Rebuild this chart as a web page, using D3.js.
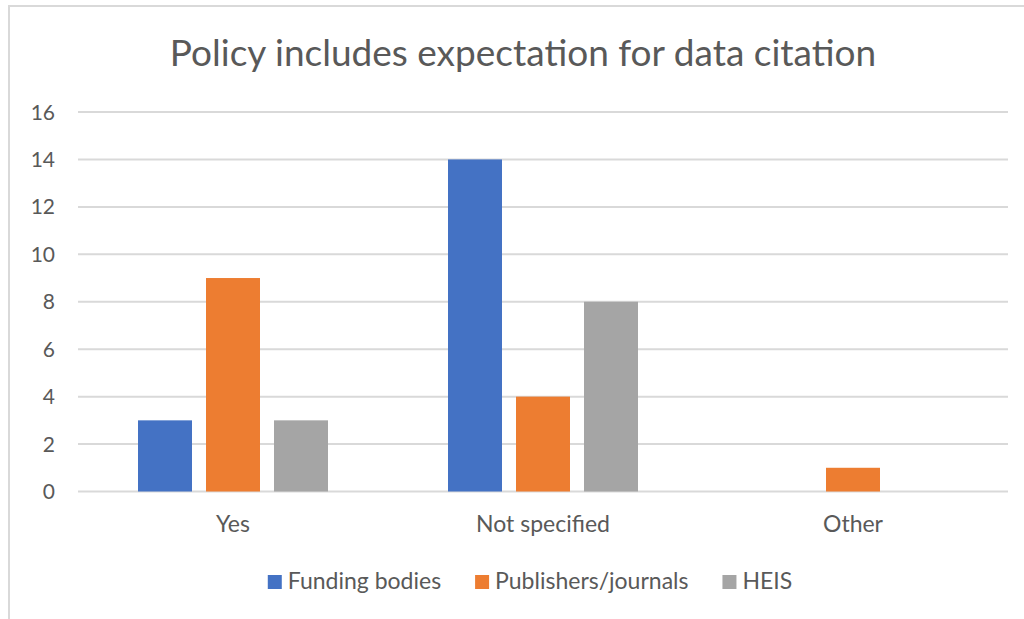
<!DOCTYPE html>
<html>
<head>
<meta charset="utf-8">
<script src="https://cdn.jsdelivr.net/npm/d3@7"></script>
<style>
  body { margin: 0; background: #fff; }
  svg { display: block; }
</style>
</head>
<body>
<svg id="chart"></svg>
<script>
(function () {
    // Data
    const categories = ["Yes", "Not specified", "Other"];
    const seriesNames = ["Funding bodies", "Publishers/journals", "HEIS"];
    const fundingBodies = [3, 14, 0];
    const publishersJournals = [9, 4, 1];
    const heis = [3, 8, 0];
    const yTicks = [0, 2, 4, 6, 8, 10, 12, 14, 16];

    const seriesValues = [fundingBodies, publishersJournals, heis];
    const colors = ["#4472C4", "#ED7D31", "#A5A5A5"];

    const width = 1024;
    const height = 619;
    const plot = { left: 78, right: 1008, top: 112, bottom: 491.5 };
    const fontFamily = "Lato, 'Open Sans', sans-serif";
    const textColor = "#595959";

    const svg = d3.select("#chart")
        .attr("width", width)
        .attr("height", height);

    // Chart area border (only top/left visible in the crop)
    svg.append("rect")
        .attr("x", 9)
        .attr("y", 6)
        .attr("width", width + 20)
        .attr("height", height + 20)
        .attr("fill", "none")
        .attr("stroke", "#d9d9d9")
        .attr("stroke-width", 2);

    // Title
    svg.append("text")
        .attr("x", 523)
        .attr("y", 66)
        .attr("text-anchor", "middle")
        .attr("font-family", fontFamily)
        .attr("font-size", "37px")
        .attr("fill", textColor)
        .text("Policy includes expectation for data citation");

    // Scales
    const y = d3.scaleLinear()
        .domain([0, 16])
        .range([plot.bottom, plot.top]);

    const x0 = d3.scaleBand()
        .domain(categories)
        .range([plot.left, plot.right])
        .padding(0);

    const x1 = d3.scaleBand()
        .domain(d3.range(seriesNames.length))
        .range([60, x0.bandwidth() - 60])
        .paddingInner(0.206)
        .paddingOuter(0);

    // Gridlines and y labels
    const yAxis = svg.append("g");
    yTicks.forEach(t => {
        yAxis.append("line")
            .attr("x1", plot.left)
            .attr("x2", plot.right)
            .attr("y1", y(t))
            .attr("y2", y(t))
            .attr("stroke", "#d9d9d9")
            .attr("stroke-width", 2);

        yAxis.append("text")
            .attr("x", 55)
            .attr("y", y(t))
            .attr("dy", "0.36em")
            .attr("text-anchor", "end")
            .attr("font-family", fontFamily)
            .attr("font-size", "21px")
            .attr("fill", textColor)
            .text(t);
    });

    // Bars
    const groups = svg.append("g")
        .selectAll("g")
        .data(categories)
        .join("g")
        .attr("transform", d => `translate(${x0(d)},0)`);

    groups.selectAll("rect")
        .data((d, ci) => seriesValues.map((vals, si) => ({ si: si, v: vals[ci] })))
        .join("rect")
        .attr("x", d => x1(d.si))
        .attr("y", d => y(d.v))
        .attr("width", x1.bandwidth())
        .attr("height", d => y(0) - y(d.v))
        .attr("fill", d => colors[d.si]);

    // Category labels
    svg.append("g")
        .selectAll("text")
        .data(categories)
        .join("text")
        .attr("x", d => x0(d) + x0.bandwidth() / 2)
        .attr("y", 532)
        .attr("text-anchor", "middle")
        .attr("font-family", fontFamily)
        .attr("font-size", "23px")
        .attr("fill", textColor)
        .text(d => d);

    // Legend
    const legend = svg.append("g");
    const sw = 14;
    const swGap = 6;
    const itemGap = 34;
    let lx = 0;
    seriesNames.forEach((name, i) => {
        const item = legend.append("g").attr("transform", `translate(${lx},0)`);
        item.append("rect")
            .attr("x", 0)
            .attr("y", 575)
            .attr("width", sw)
            .attr("height", sw)
            .attr("fill", colors[i]);
        const t = item.append("text")
            .attr("x", sw + swGap)
            .attr("y", 589)
            .attr("font-family", fontFamily)
            .attr("font-size", "23px")
            .attr("fill", textColor)
            .text(name);
        lx += sw + swGap + t.node().getComputedTextLength() + itemGap;
    });
    const legendWidth = lx - itemGap;
    legend.attr("transform", `translate(${530 - legendWidth / 2},0)`);
})();
</script>
</body>
</html>
